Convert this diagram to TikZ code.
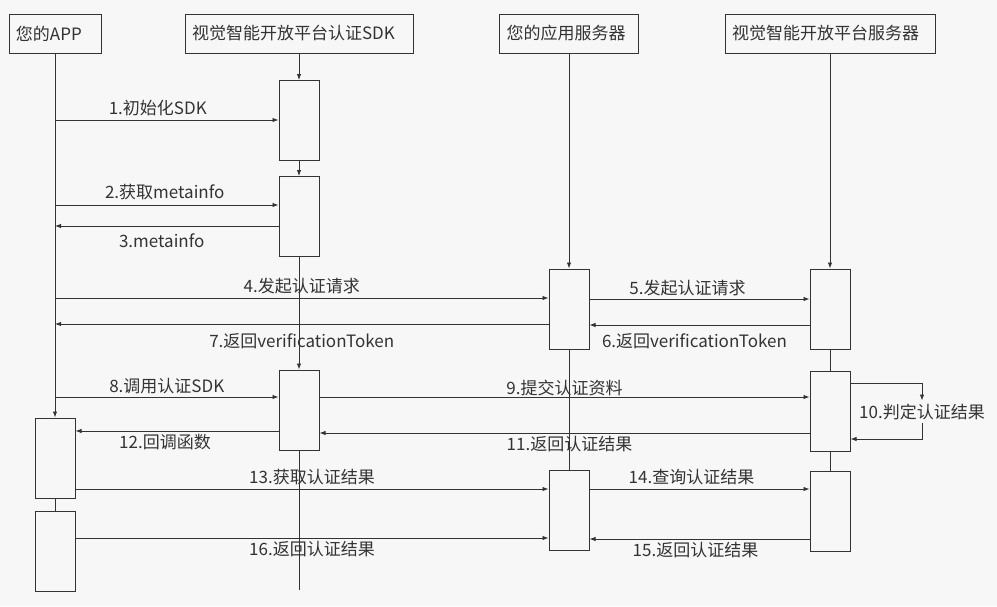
\documentclass[tikz,border=0pt]{standalone}
\usepackage{fontspec}
\newfontfamily\cjk{Noto Sans CJK SC}
\usetikzlibrary{arrows.meta}
\definecolor{seqline}{RGB}{51,51,51}
\definecolor{seqbg}{RGB}{247,247,247}

\begin{document}
\begin{tikzpicture}[x=1pt,y=-1pt,>={Latex[length=6pt,width=4.5pt]},font=\cjk\fontsize{17}{20}\selectfont,text=seqline]
\tikzstyle{head}=[draw=seqline,line width=1pt,minimum height=39pt,inner xsep=7pt,inner ysep=0pt,align=left]
\tikzstyle{act}=[draw=seqline,line width=1pt,minimum width=40pt,minimum height=80pt,inner sep=0pt]
\tikzstyle{life}=[seqline,line width=0.9pt]
\tikzstyle{msg}=[->,seqline,line width=0.9pt]
\fill[seqbg] (0,0) rectangle (997,606);
\useasboundingbox (0,0) rectangle (997,606);
% participants
\node[head,text width=78pt] (app) at (55,33.5) {您的APP};
\node[head,text width=214pt] (sdk) at (299,33.5) {视觉智能开放平台认证SDK};
\node[head,text width=125pt] (srv) at (569,33.5) {您的应用服务器};
\node[head,text width=196pt] (plat) at (830,33.5) {视觉智能开放平台服务器};
% activation boxes
\node[act] (a1) at (299,120.5) {}; \node[act] (a2) at (299,216.5) {}; \node[act] (a3) at (299,410) {};
\node[act] (b1) at (55,458) {}; \node[act] (b2) at (55,551.5) {};
\node[act] (c1) at (569,309) {}; \node[act] (c2) at (569,510.5) {};
\node[act] (d1) at (830,309) {}; \node[act] (d2) at (830,411.5) {}; \node[act] (d3) at (830,511) {};
\coordinate (sdkend) at (299,590);
% lifelines
\draw[msg] (sdk) -- (a1); \draw[msg] (a1) -- (a2); \draw[msg] (a2) -- (a3); \draw[life] (a3) -- (sdkend);
\draw[msg] (app) -- (b1); \draw[life] (b1) -- (b2);
\draw[msg] (srv) -- (c1); \draw[life] (c1) -- (c2);
\draw[msg] (plat) -- (d1); \draw[life] (d1) -- (d2); \draw[life] (d2) -- (d3);
% messages
\draw[msg] (app |- 0,120) -- node[above,xshift=-9pt]{1.初始化SDK} (a1.west |- 0,120);
\draw[msg] (app |- 0,205) -- node[above=1pt,xshift=-2pt]{2.获取metainfo} (a2.west |- 0,205);
\draw[msg] (a2.west |- 0,226) -- node[below=4pt,xshift=-5pt]{3.metainfo} (app |- 0,226);
\draw[msg] (app |- 0,298) -- node[above]{4.发起认证请求} (c1.west |- 0,298);
\draw[msg] (c1.east |- 0,299) -- node[above=-1pt,xshift=-12pt]{5.发起认证请求} (d1.west |- 0,299);
\draw[msg] (d1.west |- 0,325) -- node[below=5pt,xshift=-5pt]{6.返回verificationToken} (c1.east |- 0,325);
\draw[msg] (c1.west |- 0,324) -- node[below=6pt]{7.返回verificationToken} (app |- 0,324);
\draw[msg] (app |- 0,397) -- node[above=-1pt]{8.调用认证SDK} (a3.west |- 0,397);
\draw[msg] (a3.east |- 0,397) -- node[above=-3pt]{9.提交认证资料} (d2.west |- 0,397);
\node (r10) at (922,412) {10.判定认证结果};
\draw[msg] (d2.east |- 0,383) -| (r10.north);
\draw[msg] (r10.south) |- (d2.east |- 0,439);
\draw[msg] (d2.west |- 0,433) -- node[below=-1pt,xshift=5pt]{11.返回认证结果} (a3.east |- 0,433);
\draw[msg] (a3.west |- 0,431) -- node[below=-1pt,xshift=-12pt]{12.回调函数} (b1.east |- 0,431);
\draw[msg] (b1.east |- 0,489) -- node[above]{13.获取认证结果} (c2.west |- 0,489);
\draw[msg] (c2.east |- 0,489) -- node[above,xshift=-8pt]{14.查询认证结果} (d3.west |- 0,489);
\draw[msg] (d3.west |- 0,539) -- node[below=-1pt,xshift=-4pt]{15.返回认证结果} (c2.east |- 0,539);
\draw[msg] (b2.east |- 0,538) -- node[below=-1pt]{16.返回认证结果} (c2.west |- 0,538);
\end{tikzpicture}
\end{document}
